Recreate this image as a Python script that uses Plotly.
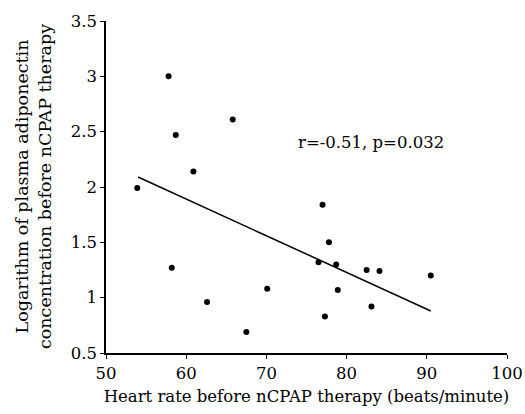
import plotly.graph_objects as go

# Data
heart_rate = [57.8, 58.7, 65.8, 60.9, 53.9, 77.0, 77.8, 76.5, 78.7, 82.5,
              84.1, 90.5, 58.2, 70.1, 78.9, 62.6, 83.1, 77.3, 67.5]
log_adiponectin = [3.00, 2.47, 2.61, 2.14, 1.99, 1.84, 1.50, 1.32, 1.30, 1.25,
                   1.24, 1.20, 1.27, 1.08, 1.07, 0.96, 0.92, 0.83, 0.69]

fit_x = [54.0, 90.5]
fit_y = [2.09, 0.88]

x_ticks = [50, 60, 70, 80, 90, 100]
y_ticks = [0.5, 1, 1.5, 2, 2.5, 3, 3.5]
y_tick_labels = ["0.5", "1", "1.5", "2", "2.5", "3", "3.5"]

font_family = "DejaVu Serif, Liberation Serif, serif"

fig = go.Figure()
fig.add_trace(go.Scatter(x=fit_x, y=fit_y, mode="lines",
                         line=dict(color="black", width=1.5),
                         showlegend=False, hoverinfo="skip"))
fig.add_trace(go.Scatter(x=heart_rate, y=log_adiponectin, mode="markers",
                         marker=dict(color="black", size=6),
                         showlegend=False))

fig.update_layout(
    width=525, height=414,
    margin=dict(l=106, r=18, t=21, b=61, autoexpand=False),
    paper_bgcolor="white", plot_bgcolor="white",
    font=dict(family=font_family, size=16.5, color="black"),
    xaxis=dict(range=[50, 100], tickvals=x_ticks, ticks="outside", ticklen=4,
               tickcolor="black", showline=True, linecolor="black", linewidth=1.5,
               showgrid=False, zeroline=False,
               title=dict(text="Heart rate before nCPAP therapy (beats/minute)",
                          font=dict(size=16.5), standoff=9),
               tickfont=dict(size=16.5)),
    yaxis=dict(range=[0.5, 3.5], tickvals=y_ticks, ticktext=y_tick_labels,
               ticks="outside", ticklen=4, tickcolor="black",
               showline=True, linecolor="black", linewidth=1.5,
               showgrid=False, zeroline=False, tickfont=dict(size=16.5)),
    annotations=[
        dict(text="r=-0.51, p=0.032", x=50 + (296 - 106.5) / 8.01, y=2.4,
             xref="x", yref="y",
             xanchor="left", yanchor="middle", showarrow=False,
             font=dict(size=16.5)),
        dict(text="Logarithm of plasma adiponectin<br>concentration before nCPAP therapy",
             x=0, xref="paper", xshift=-73, y=0.5, yref="paper",
             textangle=-90, showarrow=False, xanchor="center", yanchor="middle",
             font=dict(size=17.5)),
    ],
)

fig.write_html("out.html")
